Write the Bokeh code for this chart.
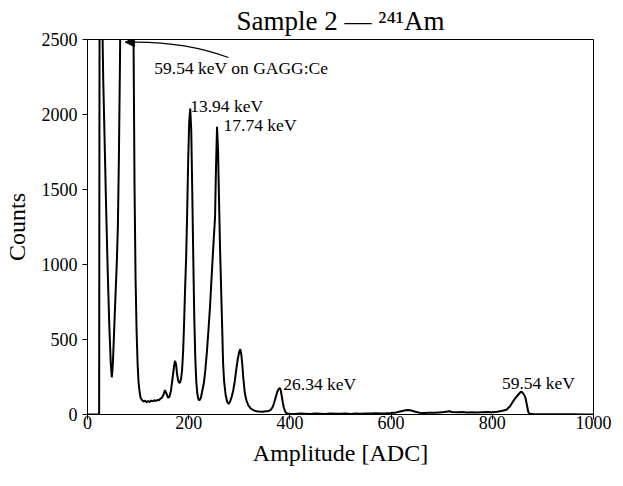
from bokeh.plotting import figure
from bokeh.models import Range1d, FixedTicker, Arrow, NormalHead, ColumnDataSource
from bokeh.core.properties import value
from bokeh.embed import file_html
from bokeh.resources import INLINE

# ---- data ----
adc = [0, 10, 20, 23, 24, 25, 26, 27, 28, 29, 31, 34, 37, 40, 43, 46, 48, 50, 52, 54,
       56, 58, 60, 62, 64, 66, 70, 75, 80, 85, 89, 91, 93, 95, 97, 99, 101, 103, 105, 108,
       111, 114, 117, 120, 123, 126, 129, 132, 135, 138, 141, 144, 147, 150, 153, 156, 159, 162, 165, 168,
       171, 173, 175, 177, 179, 181, 183, 185, 187, 189, 191, 193, 195, 197, 199, 201, 203, 205, 207, 209,
       211, 213, 215, 217, 219, 221, 224, 227, 230, 233, 236, 239, 242, 245, 248, 250, 252, 254, 256, 258,
       260, 262, 264, 266, 268, 270, 273, 276, 279, 282, 285, 288, 291, 294, 297, 300, 302, 304, 306, 308,
       311, 314, 318, 322, 328, 334, 340, 346, 352, 358, 362, 366, 369, 372, 375, 378, 380, 382, 384, 386,
       388, 391, 394, 400, 410, 420, 430, 440, 450, 460, 470, 480, 490, 500, 510, 520, 530, 540, 550, 560,
       570, 580, 590, 600, 610, 620, 628, 634, 640, 648, 656, 665, 675, 685, 695, 705, 712, 716, 720, 730,
       740, 750, 760, 770, 780, 790, 800, 810, 820, 828, 835, 842, 847, 852, 856, 858, 861, 865, 868, 871,
       874, 880, 890, 900, 920, 940, 960, 980, 1000]
counts = [0, 0, 0, 0, 3200, 5200, 6000, 5200, 3600, 2700, 2250, 1800, 1350, 950, 600, 340, 248, 330, 500, 680,
          850, 1020, 1250, 1700, 2300, 3000, 4300, 5200, 5400, 4600, 3300, 2500, 1500, 900, 560, 340, 210, 150, 110, 95,
          86, 92, 82, 90, 84, 93, 88, 95, 90, 97, 94, 105, 112, 130, 163, 140, 112, 118, 160, 240,
          320, 358, 335, 270, 230, 210, 214, 240, 300, 420, 620, 850, 1050, 1350, 1700, 1950, 2040, 1900, 1500, 1050,
          650, 380, 220, 140, 105, 93, 110, 160, 210, 300, 420, 560, 712, 900, 1080, 1200, 1310, 1650, 1918, 1760,
          1420, 1100, 850, 600, 340, 220, 130, 85, 70, 88, 118, 160, 220, 300, 370, 420, 436, 400, 330, 240,
          140, 95, 60, 42, 28, 22, 20, 19, 22, 24, 30, 50, 80, 115, 150, 172, 177, 160, 120, 80,
          45, 18, 7, 5, 4, 6, 5, 4, 6, 5, 4, 6, 5, 5, 6, 4, 6, 5, 7, 6,
          8, 7, 8, 10, 14, 22, 28, 30, 27, 18, 12, 10, 11, 12, 14, 16, 20, 22, 17, 15,
          16, 14, 15, 14, 15, 16, 15, 18, 25, 32, 55, 92, 115, 135, 150, 153, 140, 118, 70, 18,
          4, 3, 2, 2, 1, 1, 1, 0, 0]

peak_labels = ["13.94 keV", "17.74 keV", "26.34 keV", "59.54 keV"]
peak_label_x = [203, 269, 387, 819]
peak_label_y = [2058, 1931, 202, 213]

gagg_label = ["59.54 keV on GAGG:Ce"]
gagg_label_x = [132]
gagg_label_y = [2309]
gagg_arrow_tip = (74.5, 2482)
gagg_arrow_tail = (278.5, 2380)
gagg_arrow_ctrl = (190, 2490)

x_ticks = [0, 200, 400, 600, 800, 1000]
y_ticks = [0, 500, 1000, 1500, 2000, 2500]

FONT = "Liberation Serif"

p = figure(frame_width=506, frame_height=375,
           output_backend="svg", toolbar_location=None,
           x_range=Range1d(0, 1000), y_range=Range1d(0, 2500),
           min_border_left=0, min_border_right=22, min_border_top=0, min_border_bottom=0,
           background_fill_color="white", border_fill_color="white")

p.title.text = "Sample 2 \u2014 \u00b2\u2074\u00b9Am"
p.title.align = "center"
p.title.text_font = FONT
p.title.text_font_size = "27px"
p.title.text_font_style = "normal"
p.title.text_color = "black"
p.title.standoff = 7

p.xgrid.visible = False
p.ygrid.visible = False
p.outline_line_color = "black"
p.outline_line_width = 1
p.outline_line_alpha = 1

for ax, ticks, label in ((p.xaxis, x_ticks, "Amplitude [ADC]"), (p.yaxis, y_ticks, "Counts")):
    ax.ticker = FixedTicker(ticks=ticks)
    ax.axis_label = label
    ax.axis_label_text_font = FONT
    ax.axis_label_text_font_size = "24px"
    ax.axis_label_text_font_style = "normal"
    ax.axis_label_text_color = "black"
    ax.major_label_text_font = FONT
    ax.major_label_text_font_size = "18px"
    ax.major_label_text_color = "black"
    ax.axis_line_color = "black"
    ax.major_tick_line_color = "black"
    ax.major_tick_in = 0
    ax.major_tick_out = 5
    ax.minor_tick_line_color = None

p.xaxis.major_label_standoff = -4
p.xaxis.axis_label_standoff = 8
p.yaxis.major_label_standoff = 5
p.yaxis.axis_label_standoff = 9

src = ColumnDataSource(data=dict(adc=adc, counts=counts))
p.line("adc", "counts", source=src, line_color="black", line_width=2)

lab = ColumnDataSource(data=dict(x=peak_label_x, y=peak_label_y, t=peak_labels))
p.text("x", "y", text="t", source=lab, text_font=value(FONT), text_font_size="17.5px",
       text_align="left", text_baseline="alphabetic", text_color="black")

glab = ColumnDataSource(data=dict(x=gagg_label_x, y=gagg_label_y, t=gagg_label))
p.text("x", "y", text="t", source=glab, text_font=value(FONT), text_font_size="17.5px",
       text_align="left", text_baseline="alphabetic", text_color="black")

p.quadratic(x0=[gagg_arrow_tail[0]], y0=[gagg_arrow_tail[1]],
            x1=[gagg_arrow_tip[0] + 6], y1=[gagg_arrow_tip[1]],
            cx=[gagg_arrow_ctrl[0]], cy=[gagg_arrow_ctrl[1]],
            line_color="black", line_width=1.3)
p.add_layout(Arrow(end=NormalHead(size=9, fill_color="black", line_color="black", line_width=1),
                   x_start=gagg_arrow_tip[0] + 10, y_start=gagg_arrow_tip[1] + 0.5,
                   x_end=gagg_arrow_tip[0], y_end=gagg_arrow_tip[1],
                   line_color="black", line_width=1.3))

open("out.html", "w").write(file_html(p, INLINE))
